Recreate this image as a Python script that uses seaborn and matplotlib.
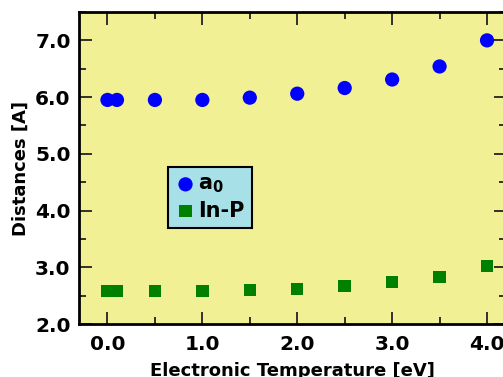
import numpy as np
import pandas as pd
import seaborn as sns
import matplotlib.pyplot as plt
from matplotlib.ticker import MultipleLocator

# electronic temperature (eV)
temps = [0.0, 0.1, 0.5, 1.0, 1.5, 2.0, 2.5, 3.0, 3.5, 4.0]
# lattice constant a0 and In-P bond length (A)
a0 = [5.95, 5.95, 5.95, 5.95, 5.99, 6.06, 6.16, 6.31, 6.54, 7.0]
in_p = [2.58, 2.58, 2.58, 2.58, 2.60, 2.62, 2.67, 2.74, 2.83, 3.02]

sns.set_style("ticks")
plt.rcParams['font.family'] = ['DejaVu Sans']
plt.rcParams['font.weight'] = 'bold'
plt.rcParams['text.color'] = 'black'
plt.rcParams['axes.labelcolor'] = 'black'
plt.rcParams['xtick.color'] = 'black'
plt.rcParams['ytick.color'] = 'black'

fig = plt.figure(figsize=(5.03, 3.77), dpi=100)
ax = fig.add_axes([79 / 503, 1 - 324 / 377, 427 / 503, 312 / 377])
ax.set_facecolor('#f2f094')

sns.scatterplot(x=temps, y=a0, color='#0000ff', marker='o', s=105,
                edgecolor='none', label='a$_0$', ax=ax)
sns.scatterplot(x=temps, y=in_p, color='#008000', marker='s', s=80,
                edgecolor='none', label='In-P', ax=ax)

ax.set_xlim(-0.3, 4.2)
ax.set_ylim(2.0, 7.5)
ax.xaxis.set_major_locator(MultipleLocator(1.0))
ax.xaxis.set_minor_locator(MultipleLocator(0.5))
ax.yaxis.set_major_locator(MultipleLocator(1.0))
ax.yaxis.set_minor_locator(MultipleLocator(0.5))
ax.xaxis.set_major_formatter('{x:.1f}')
ax.yaxis.set_major_formatter('{x:.1f}')
ax.tick_params(which='both', direction='in', top=True, right=True,
               width=1.3, color='#222222', labelsize=14.5)
ax.tick_params(axis='x', pad=8)
ax.tick_params(axis='y', pad=6)
ax.tick_params(which='major', length=9)
ax.tick_params(which='minor', length=5)
for sp in ax.spines.values():
    sp.set_linewidth(2)
    sp.set_color('black')
    sp.set_visible(True)

ax.set_xlabel('Electronic Temperature [eV]', fontsize=13, fontweight='bold', labelpad=6)
ax.set_ylabel('Distances [A]', fontsize=13, fontweight='bold', labelpad=4)

leg = ax.legend(loc='lower left', bbox_to_anchor=(0.208, 0.308), borderaxespad=0,
                fancybox=False, framealpha=1, facecolor='#a8e0e8', edgecolor='black',
                prop={'size': 15, 'weight': 'bold'}, handletextpad=0.1,
                handlelength=1.0, borderpad=0.35, labelspacing=0.25, markerscale=1.0)
leg.get_frame().set_linewidth(1.5)

fig.savefig('out.png', dpi=100)
